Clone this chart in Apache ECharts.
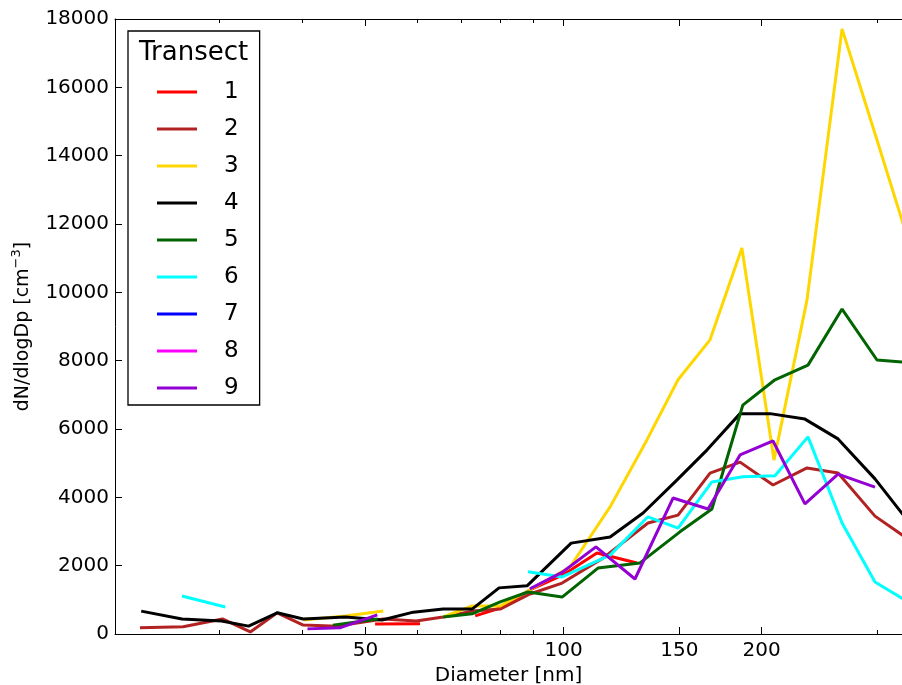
<!DOCTYPE html>
<html>
<head>
<meta charset="utf-8">
<script src="https://cdn.jsdelivr.net/npm/echarts@6/dist/echarts.min.js"></script>
<style>
  html, body { margin: 0; padding: 0; background: #fff; }
  #chart { width: 902px; height: 685px; }
</style>
</head>
<body>
<div id="chart"></div>
<script>
// diameters in nm, values in cm^-3 ; null marks a break in the line
var t1_d = [51.7, 60.5, null, 73.4, 80.1, 88.9, 99.8, 112.4, 129.3];
var t1_v = [290, 300, null, 530, 760, 1290, 1730, 2370, 2080];

var t2_d = [22.7, 26.4, 30.3, 33.4, 36.7, 40.2, 45.3, 53.2, 59.7, 65.6, 72.6, 80.1, 88.9, 99.5, 114.8, 134.4, 149.3, 167.0, 185.5, 208.2, 234.5, 261.4, 297.5, 333.8];
var t2_v = [180, 210, 440, 60, 620, 260, 230, 440, 380, 500, 670, 730, 1170, 1490, 2220, 3250, 3480, 4710, 5030, 4360, 4860, 4710, 3450, 2780];

var t3_d = [40.2, 46.6, 53.2, null, 65.6, 72.6, 80.1, 88.3, 102.3, 117.7, 133.9, 149.3, 167.0, 186.7, 208.9, 234.5, 265.1, 299.6, 333.8];
var t3_v = [410, 530, 670, null, 500, 820, 820, 1260, 1960, 3720, 5680, 7440, 8610, 11300, 5090, 9780, 17710, 14460, 11560];

var t4_d = [22.8, 26.3, 30.2, 33.2, 36.7, 40.2, 46.6, 53.0, 59.1, 65.6, 72.6, 79.8, 88.0, 102.7, 117.7, 132.1, 148.8, 165.3, 185.5, 206.0, 232.8, 261.4, 297.5, 333.8];
var t4_v = [670, 440, 380, 230, 620, 440, 500, 410, 640, 730, 730, 1350, 1410, 2660, 2840, 3540, 4510, 5390, 6450, 6450, 6290, 5710, 4540, 3310];

var t5_d = [44.6, 52.2, null, 65.6, 72.6, 80.1, 88.3, 99.5, 112.8, 130.7, 150.3, 168.1, 187.3, 209.6, 235.3, 265.1, 299.6, 333.8];
var t5_v = [260, 440, null, 500, 590, 940, 1230, 1080, 1930, 2080, 2990, 3660, 6700, 7440, 7870, 9510, 8020, 7950];

var t6_d = [26.3, 30.6, null, 88.3, 99.5, 117.7, 134.4, 149.3, 168.1, 187.3, 209.6, 235.3, 265.1, 297.5, 333.8];
var t6_v = [1110, 790, null, 1820, 1670, 2310, 3430, 3100, 4450, 4600, 4630, 5770, 3250, 1520, 940];

var t7_d = [];
var t7_v = [];

var t8_d = [];
var t8_v = [];

var t9_d = [40.8, 45.7, 52.1, null, 88.9, 99.8, 112.0, 128.4, 146.7, 165.8, 185.5, 208.2, 232.8, 261.4, 297.5];
var t9_v = [150, 180, 560, null, 1320, 1820, 2550, 1610, 3980, 3660, 5240, 5650, 3810, 4680, 4300];

var names = ['1', '2', '3', '4', '5', '6', '7', '8', '9'];
var colors = ['#ff0000', '#b22222', '#ffd700', '#000000', '#006400', '#00ffff', '#0000ff', '#ff00ff', '#9400d3'];

var majorTicks = [50, 100, 150, 200];
var minorTicks = [30, 40, 60, 70, 80, 90, 300];
var yTicks = [0, 18000, 2000]; // min, max, step

var xMin = 20.8, xMax = 327;
var font = 'DejaVu Sans';

function toPoints(d, v){
    return d.map(function(x, i){
        if(x === null || v[i] === null){
            return ['-', '-'];
        }
        return [Math.log10(x), v[i]];
    });
}

var seriesData = [
    toPoints(t1_d, t1_v), toPoints(t2_d, t2_v), toPoints(t3_d, t3_v),
    toPoints(t4_d, t4_v), toPoints(t5_d, t5_v), toPoints(t6_d, t6_v),
    toPoints(t7_d, t7_v), toPoints(t8_d, t8_v), toPoints(t9_d, t9_v)
];

function logs(arr){
    return arr.map(function(x){ return Math.log10(x); });
}

function xAxisBase(pos, ticks, len, showLine, showLabel){
    return {
        type: 'value',
        position: pos,
        min: Math.log10(xMin),
        max: Math.log10(xMax),
        axisLine: { show: showLine, lineStyle: { color: '#000', width: 1 } },
        axisTick: { show: true, inside: true, length: len, customValues: logs(ticks), lineStyle: { color: '#000', width: 1 } },
        axisLabel: {
            show: showLabel,
            customValues: logs(ticks),
            formatter: function(v){ return String(Math.round(Math.pow(10, v))); },
            fontSize: 20,
            fontFamily: font,
            color: '#000',
            margin: 7
        },
        splitLine: { show: false }
    };
}

var bottomMajor = xAxisBase('bottom', majorTicks, 7, true, true);
bottomMajor.name = 'Diameter [nm]';
bottomMajor.nameLocation = 'middle';
bottomMajor.nameGap = 32;
bottomMajor.nameTextStyle = { fontSize: 20, fontFamily: font, color: '#000' };

var series = names.map(function(n, i){
    return {
        name: n,
        type: 'line',
        xAxisIndex: 0,
        data: seriesData[i],
        color: colors[i],
        symbol: 'none',
        showSymbol: false,
        connectNulls: false,
        clip: true,
        lineStyle: { width: 3, color: colors[i] }
    };
});

var chart = echarts.init(document.getElementById('chart'), null, { renderer: 'canvas' });

chart.setOption({
    animation: false,
    backgroundColor: '#fff',
    textStyle: { fontFamily: font },
    title: {
        text: 'Transect',
        left: 139,
        top: 40,
        padding: 0,
        textStyle: { fontSize: 26, fontWeight: 'normal', color: '#000', fontFamily: font }
    },
    legend: {
        data: names,
        orient: 'vertical',
        left: 128,
        top: 31,
        padding: [48, 21, 4, 29],
        itemGap: 11,
        itemWidth: 40,
        itemHeight: 3,
        icon: 'rect',
        backgroundColor: '#fff',
        borderColor: '#000',
        borderWidth: 1.3,
        borderRadius: 0,
        textStyle: { fontSize: 23, lineHeight: 26, color: '#000', fontFamily: font, padding: [0, 0, 0, 22] }
    },
    grid: { left: 115, right: 0, top: 19, bottom: 51, outerBoundsMode: 'none' },
    xAxis: [
        bottomMajor,
        xAxisBase('bottom', minorTicks, 4, false, false),
        xAxisBase('top', majorTicks, 7, true, false),
        xAxisBase('top', minorTicks, 4, false, false)
    ],
    yAxis: {
        type: 'value',
        min: yTicks[0],
        max: yTicks[1],
        interval: yTicks[2],
        axisLine: { show: true, lineStyle: { color: '#000', width: 1 } },
        axisTick: { show: true, inside: true, length: 7, lineStyle: { color: '#000' } },
        axisLabel: {
            fontSize: 20,
            fontFamily: font,
            color: '#000',
            margin: 6,
            formatter: function(v){ return String(v); }
        },
        splitLine: { show: false },
        name: '{a|dN/dlogDp [cm}{s|−3}{a|]}',
        nameLocation: 'middle',
        nameRotate: 90,
        nameGap: 78,
        nameTextStyle: {
            rich: {
                a: { fontSize: 19, fontFamily: font, color: '#000' },
                s: { fontSize: 13, fontFamily: font, color: '#000', padding: [0, 0, 14, 0] }
            }
        }
    },
    series: series
});
</script>
</body>
</html>
